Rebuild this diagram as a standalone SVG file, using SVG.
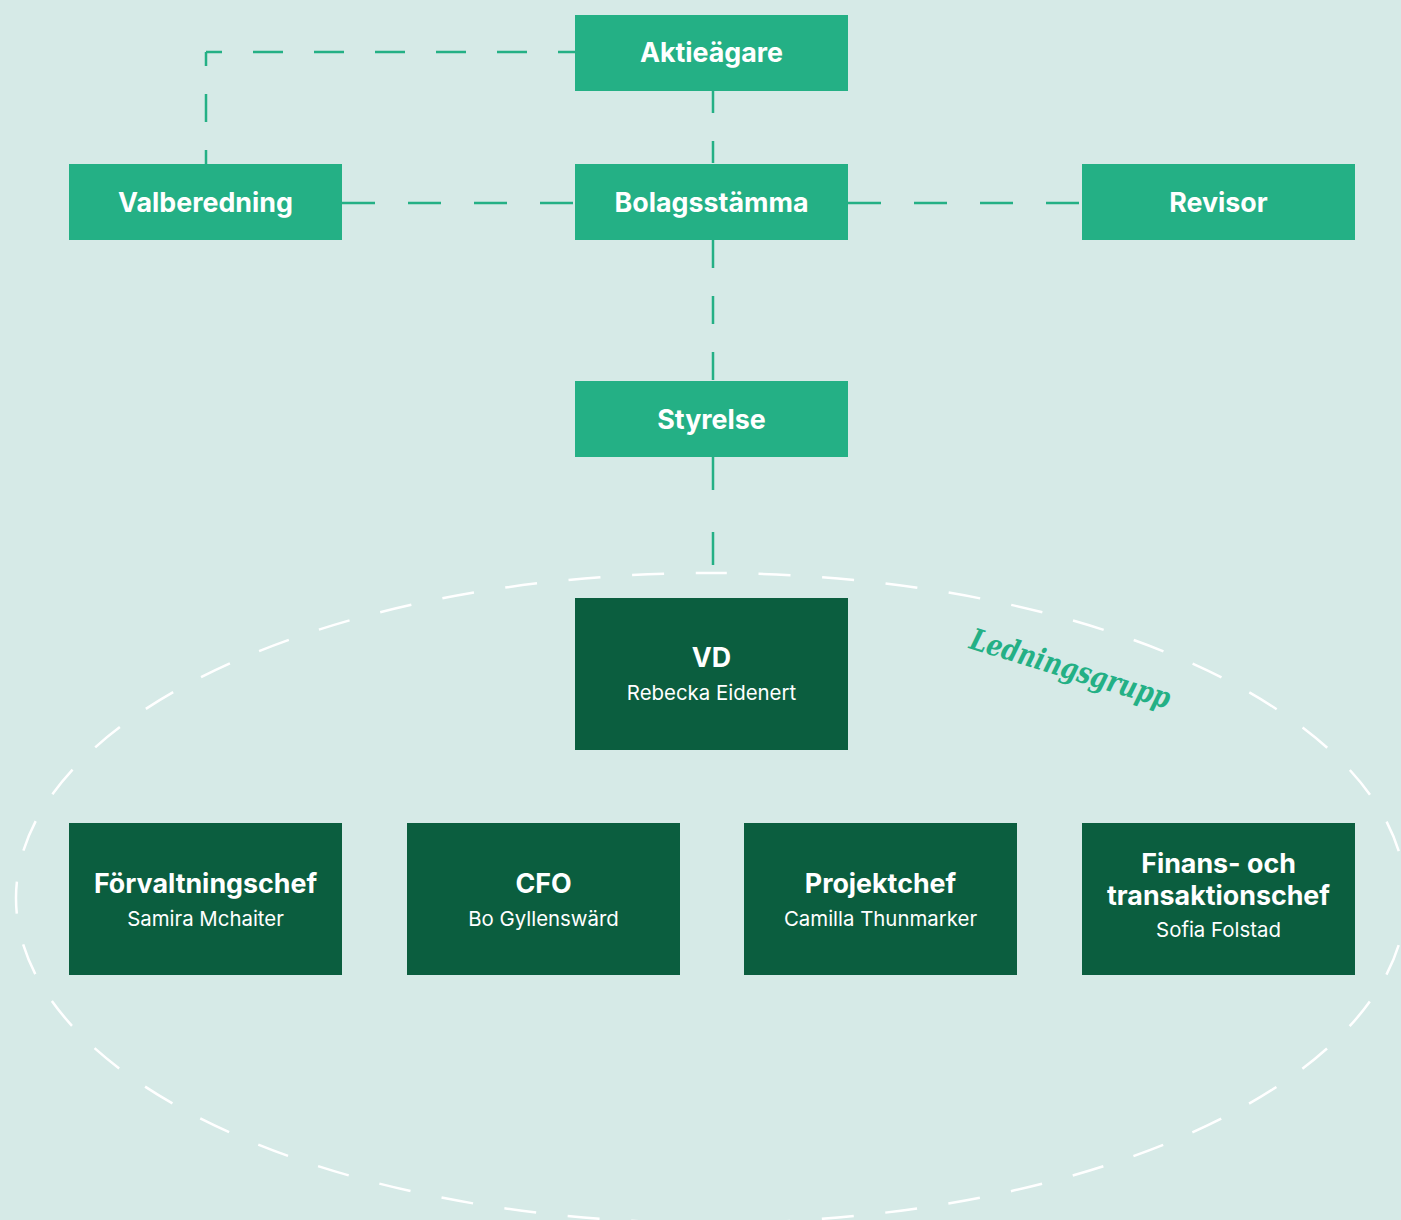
<svg xmlns="http://www.w3.org/2000/svg" width="1401" height="1220" viewBox="0 0 1401 1220">
<style>
.lt{fill:#24B085}
.dk{fill:#0B5E3F}
.t{font-family:Inter,"Noto Sans","Liberation Sans",sans-serif;font-weight:700;font-size:26.8px;fill:#fff;text-anchor:middle}
.s{font-family:Inter,"Noto Sans","Liberation Sans",sans-serif;font-weight:400;font-size:20.4px;fill:#fff;text-anchor:middle}
.c{fill:none;stroke:#24B085;stroke-width:2.5;stroke-dasharray:31 31}
</style>
<rect width="1401" height="1220" fill="#D6EAE7"/>
<g id="connectors">
<path class="c" d="M206 164 V52" style="stroke-dasharray:28 28;stroke-dashoffset:14"/>
<path class="c" d="M206 52 H575" style="stroke-dasharray:30 31;stroke-dashoffset:14"/>
<path class="c" d="M713 91 V164" style="stroke-dasharray:22 28"/>
<path class="c" d="M342 203 H575" style="stroke-dasharray:33 33"/>
<path class="c" d="M848 203 H1082" style="stroke-dasharray:33 33"/>
<path class="c" d="M713 240 V381" style="stroke-dasharray:28 28"/>
<path class="c" d="M713 457 V572" style="stroke-dasharray:33 42"/>
</g>
<g id="ledningsgrupp">
<path d="M711 573 A695 325 0 1 1 711 1223 A695 325 0 1 1 711 573" fill="none" stroke="#fff" stroke-width="2.5" stroke-dasharray="32 31.67" stroke-dashoffset="16"/>
<text x="0" y="0" transform="translate(968 648) rotate(17)" font-family="'DejaVu Serif',serif" font-style="italic" font-weight="700" font-size="30" fill="#24B085" textLength="208" lengthAdjust="spacingAndGlyphs">Ledningsgrupp</text>
</g>
<g id="aktieagare"><rect class="lt" x="575" y="15" width="273" height="76"/><text class="t" x="711.5" y="62">Aktieägare</text></g>
<g id="valberedning"><rect class="lt" x="69" y="164" width="273" height="76"/><text class="t" x="205.5" y="212">Valberedning</text></g>
<g id="bolagsstamma"><rect class="lt" x="575" y="164" width="273" height="76"/><text class="t" x="711.5" y="212">Bolagsstämma</text></g>
<g id="revisor"><rect class="lt" x="1082" y="164" width="273" height="76"/><text class="t" x="1218.5" y="212">Revisor</text></g>
<g id="styrelse"><rect class="lt" x="575" y="381" width="273" height="76"/><text class="t" x="711.5" y="429">Styrelse</text></g>
<g id="vd"><rect class="dk" x="575" y="598" width="273" height="152"/><text class="t" x="711.5" y="667">VD</text><text class="s" x="711.5" y="700">Rebecka Eidenert</text></g>
<g id="forvaltningschef"><rect class="dk" x="69" y="823" width="273" height="152"/><text class="t" x="205.5" y="893">Förvaltningschef</text><text class="s" x="205.5" y="926">Samira Mchaiter</text></g>
<g id="cfo"><rect class="dk" x="407" y="823" width="273" height="152"/><text class="t" x="543.5" y="893">CFO</text><text class="s" x="543.5" y="926">Bo Gyllenswärd</text></g>
<g id="projektchef"><rect class="dk" x="744" y="823" width="273" height="152"/><text class="t" x="880.5" y="893">Projektchef</text><text class="s" x="880.5" y="926">Camilla Thunmarker</text></g>
<g id="finanschef"><rect class="dk" x="1082" y="823" width="273" height="152"/><text class="t" x="1218.5" y="873">Finans- och</text><text class="t" x="1218.5" y="905">transaktionschef</text><text class="s" x="1218.5" y="937">Sofia Folstad</text></g>
</svg>
